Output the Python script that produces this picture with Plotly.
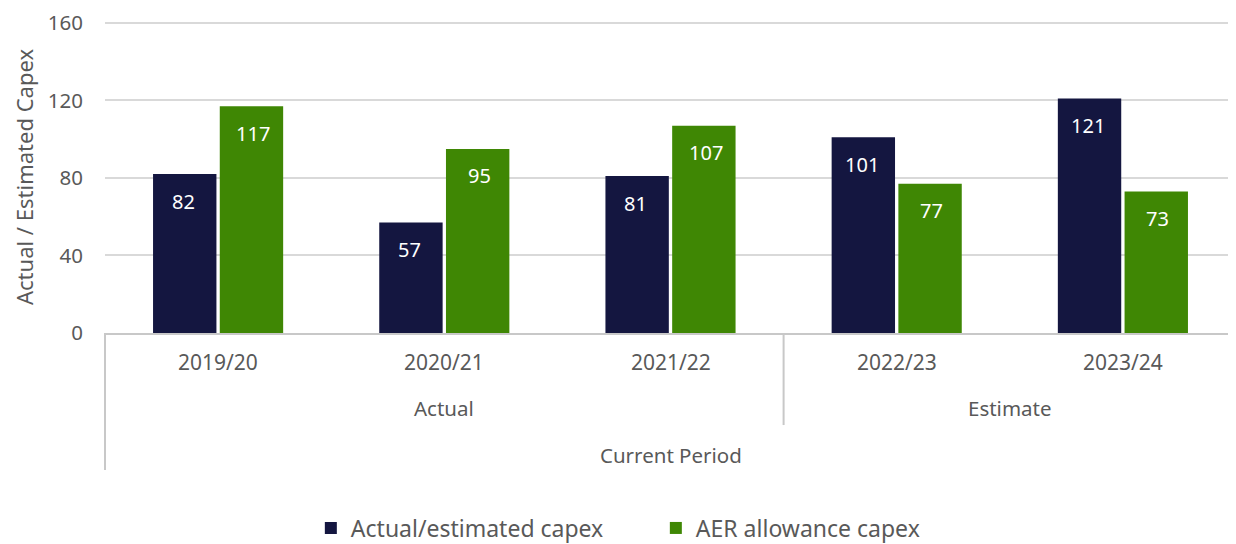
from plotly.graph_objects import Bar, Figure

years = ["2019/20", "2020/21", "2021/22", "2022/23", "2023/24"]
actual_capex = [82, 57, 81, 101, 121]
aer_allowance = [117, 95, 107, 77, 73]
groups = ["Actual", "Estimate"]
group_sizes = [3, 2]
period_label = "Current Period"
y_ticks = [0, 40, 80, 120, 160]

NAVY = "#141640"
GREEN = "#3f8704"
GREY_TEXT = "#595959"
LINE_GREY = "#c8c8c8"
FONT = "Noto Sans"

fig = Figure()

fig.add_trace(Bar(x=years, y=actual_capex, name="Actual/estimated capex",
                  marker=dict(color=NAVY, line=dict(width=0))))
fig.add_trace(Bar(x=years, y=aer_allowance, name="AER allowance capex",
                  marker=dict(color=GREEN, line=dict(width=0))))

# value labels sit a little below the top of each bar
for vals, shift in [(actual_capex, -35), (aer_allowance, 35)]:
    for yr, v in zip(years, vals):
        fig.add_annotation(x=yr, y=v, xref="x", yref="y", text=str(v), showarrow=False,
                           xshift=shift, yshift=-27, font=dict(color="white", size=20, family=FONT))

# multi-level category axis, drawn by hand (page body has an 8px margin, plot height 312px)
n = len(years)
for i, yr in enumerate(years):
    fig.add_annotation(x=(i + 0.5) / n, y=-0.093, xref="paper", yref="paper", text=yr,
                       xanchor="center", yanchor="middle", showarrow=False,
                       font=dict(size=21, color=GREY_TEXT, family=FONT))
start = 0
for g, size in zip(groups, group_sizes):
    fig.add_annotation(x=(start + size / 2) / n, y=-0.240, xref="paper", yref="paper", text=g,
                       xanchor="center", yanchor="middle", showarrow=False,
                       font=dict(size=20.5, color=GREY_TEXT, family=FONT))
    if start > 0:
        fig.add_shape(type="line", xref="paper", yref="paper", x0=start / n, x1=start / n,
                      y0=0, y1=-0.295, line=dict(color=LINE_GREY, width=2))
    start += size
fig.add_shape(type="line", xref="paper", yref="paper", x0=0, x1=0, y0=0, y1=-0.439,
              line=dict(color=LINE_GREY, width=2))
fig.add_annotation(x=0.5, y=-0.391, xref="paper", yref="paper", text=period_label,
                   xanchor="center", yanchor="middle", showarrow=False,
                   font=dict(size=20.5, color=GREY_TEXT, family=FONT))

fig.add_annotation(x=-0.0716, y=0.5, xref="paper", yref="paper", text="Actual / Estimated Capex",
                   xanchor="center", yanchor="middle", textangle=-90, showarrow=False,
                   font=dict(size=22, color=GREY_TEXT, family=FONT))

fig.update_layout(
    width=1228, height=536,
    margin=dict(l=97, r=0, t=13, b=211, autoexpand=False),
    paper_bgcolor="white", plot_bgcolor="white",
    barmode="group", bargap=0.41, bargroupgap=0.05,
    font=dict(family=FONT, color=GREY_TEXT, size=20),
    showlegend=True,
    legend=dict(orientation="h", x=0.182, xanchor="left", y=-0.625, yanchor="middle",
                entrywidth=300, entrywidthmode="pixels", font=dict(size=23, color=GREY_TEXT)),
    xaxis=dict(showticklabels=False, showline=True, linecolor=LINE_GREY, linewidth=2,
               showgrid=False, ticks="", automargin=False),
    yaxis=dict(range=[0, 161], tickvals=y_ticks, showgrid=True, gridcolor="#d9d9d9", gridwidth=2,
               zeroline=False, showline=False, ticks="outside", ticklen=17, automargin=False,
               ticklabeloverflow="allow", tickcolor="rgba(0,0,0,0)",
               tickfont=dict(size=20.5, color=GREY_TEXT)),
)

fig.write_html("out.html")
